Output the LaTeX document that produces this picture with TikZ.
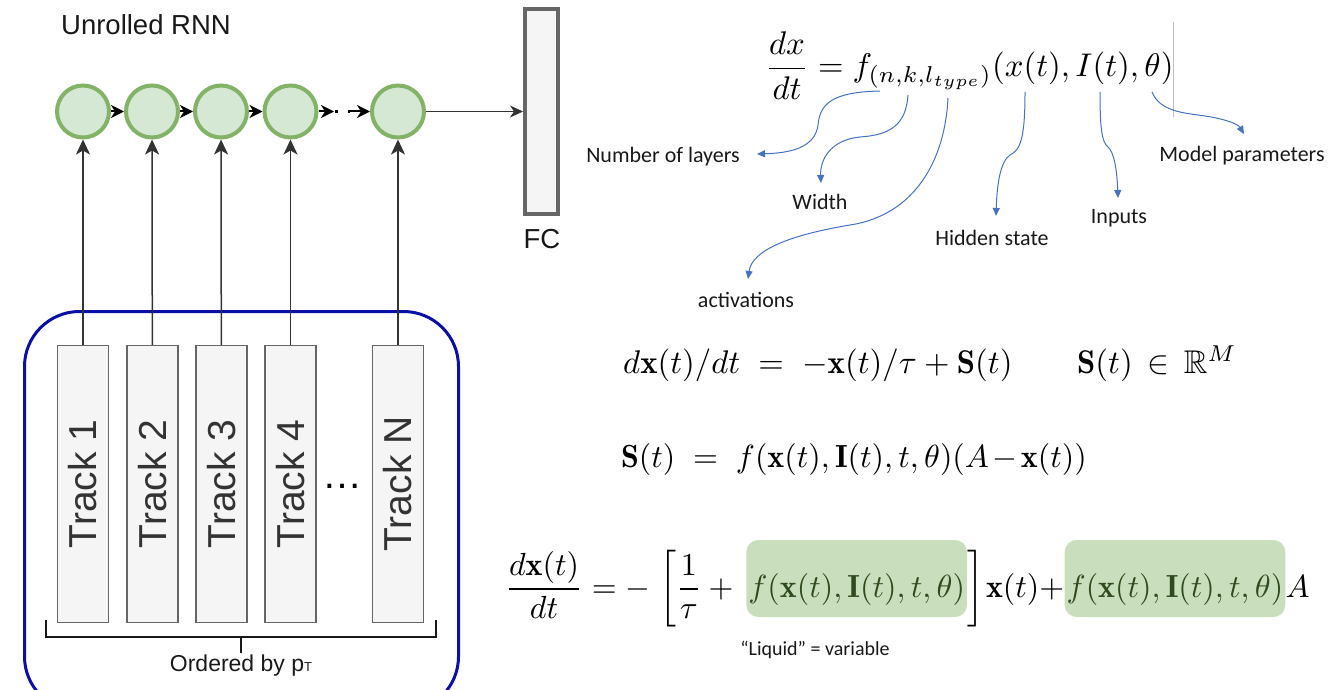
\documentclass[tikz,border=0pt]{standalone}
\usepackage{amsmath,amssymb}
\usepackage{graphicx}
\usepackage{fontspec}
\newfontfamily\arialf{Liberation Sans}
\newfontfamily\calib{Carlito}
\usetikzlibrary{arrows.meta}
\definecolor{rnnfill}{HTML}{D5E8D4}
\definecolor{rnnline}{HTML}{82B366}
\definecolor{boxfill}{HTML}{F5F5F5}
\definecolor{boxline}{HTML}{666666}
\definecolor{darkline}{HTML}{333333}
\definecolor{grpblue}{HTML}{0A0FA8}
\definecolor{annblue}{HTML}{4472C4}
\definecolor{liqfill}{HTML}{C9DEBC}
\definecolor{liqtext}{HTML}{2F4A1E}
\begin{document}
\begin{tikzpicture}[x=1pt,y=-1pt,
  rnn/.style={circle, draw=rnnline, fill=rnnfill, line width=4pt, minimum size=52pt, inner sep=0pt},
  trackbox/.style={draw=boxline, fill=boxfill, line width=1.5pt, minimum width=51pt, minimum height=277pt, inner sep=0pt, text=darkline, font=\arialf\fontsize{39}{42}\selectfont},
  fcbox/.style={draw=boxline, fill=boxfill, line width=4pt, minimum width=33pt, minimum height=205pt, inner sep=0pt},
  rarrow/.style={-{Stealth[length=13pt,width=13pt,inset=4pt]}, line width=2pt, black},
  farrow/.style={-{Stealth[length=13pt,width=12pt,inset=4pt]}, line width=1.3pt, darkline},
  uparrow/.style={-{Stealth[length=15pt,width=14pt,inset=4pt]}, line width=1.5pt, darkline},
  ann/.style={-{Triangle[length=8pt,width=7pt]}, annblue, line width=1pt},
  lbl/.style={font=\calib\fontsize{22}{26}\selectfont, text=black!90, inner sep=0pt},
  arialtxt/.style={font=\arialf\fontsize{27.5}{30}\selectfont, text=black!90, inner sep=0pt},
  eqn/.style={anchor=base west, inner sep=0pt},
  liq/.style={fill=liqfill, rounded corners=12pt, inner xsep=2pt, inner ysep=0pt, text=liqtext, anchor=base west},
  grp/.style={draw=grpblue, line width=3pt, rounded corners=55pt}
]
\useasboundingbox (0,0) rectangle (1341,690);

% ---------- left: unrolled RNN ----------
\node[arialtxt] (title) at (146,25) {Unrolled RNN};

\node[rnn] (c1) at (83,111.5) {};
\node[rnn] (c2) at (152,111.5) {};
\node[rnn] (c3) at (221,111.5) {};
\node[rnn] (c4) at (290.5,111.5) {};
\node[rnn] (c5) at (398,111.5) {};

\coordinate (d1) at (334,111.5);
\coordinate (d2) at (350,111.5);

\draw[rarrow] (c1) -- (c2);
\draw[rarrow] (c2) -- (c3);
\draw[rarrow] (c3) -- (c4);
\draw[rarrow] (c4) -- (d1);
\draw[black, line width=2.5pt, dash pattern=on 2.5pt off 10pt] (335,111.5) -- (352,111.5);
\draw[rarrow] (d2) -- (c5);

\node[fcbox] (fc) at (541.5,111.5) {};
\node[arialtxt] (fclbl) at (542,239) {FC};
\draw[farrow] (c5) -- (fc);

% group box
\node[grp, minimum width=434pt, minimum height=400pt, anchor=north west] (group) at (23,310) {};

% tracks
\node[trackbox] (t1) at (83,484) {\rotatebox{90}{Track 1}};
\node[trackbox] (t2) at (152.5,484) {\rotatebox{90}{Track 2}};
\node[trackbox] (t3) at (221.5,484) {\rotatebox{90}{Track 3}};
\node[trackbox] (t4) at (290.5,484) {\rotatebox{90}{Track 4}};
\node[trackbox] (tN) at (398,484) {\rotatebox{90}{Track N}};
\node[inner sep=0pt, text=black, font=\arialf\fontsize{40}{40}\selectfont] (tdots) at (342,486) {…};

\draw[uparrow] (t1) -- (c1);
\draw[uparrow] (t2) -- (c2);
\draw[uparrow] (t3) -- (c3);
\draw[uparrow] (t4) -- (c4);
\draw[uparrow] (tN) -- (c5);

% bracket
\coordinate (bl) at (46,620);
\coordinate (br) at (436,620);
\coordinate (bm) at (241,637);
\coordinate (bt) at (241,653);
\draw[black!90, line width=1.5pt] (bl) -- (46,637) -- (436,637) -- (br);
\draw[black!90, line width=1.5pt] (bm) -- (bt);
\node[inner sep=0pt, text=black!90, font=\arialf\fontsize{23}{26}\selectfont, anchor=north] (order) at (241,655) {Ordered by p{\fontsize{13}{13}\selectfont T}};

% ---------- right: equations ----------
\node[eqn] (eqA) at (765,77) {\scalebox{3.28}{$\dfrac{dx}{dt} = f_{(n,k,l_{type})}(x(t),I(t),\theta)$}};
\draw[black!25, line width=0.8pt] (1173,22) -- (1173,117);

\node[lbl] (nlay) at (663,157) {Number of layers};
\node[lbl] (wid) at (820,202) {Width};
\node[lbl] (act) at (746,300) {activations};
\node[lbl] (hid) at (992,238) {Hidden state};
\node[lbl] (inp) at (1119,218) {Inputs};
\node[lbl] (mpar) at (1242,156) {Model parameters};

\coordinate (sL) at (880,91);
\coordinate (eL) at (757,154);
\coordinate (sW) at (908,95);
\coordinate (eW) at (821,183);
\coordinate (sA) at (948,98);
\coordinate (eA) at (748,279);
\coordinate (sH) at (1025,92);
\coordinate (eH) at (996,216);
\coordinate (sI) at (1100,92);
\coordinate (eI) at (1118,198);
\coordinate (sM) at (1152,92);
\coordinate (eM) at (1244,134);

\draw[ann] (sL) .. controls (830,92) and (820,105) .. (818,125) .. controls (815,148) and (790,153) .. (eL);
\draw[ann] (sW) .. controls (906,125) and (890,135) .. (860,137) .. controls (830,140) and (820,160) .. (eW);
\draw[ann] (sA) .. controls (945,160) and (915,215) .. (850,225) .. controls (790,235) and (752,250) .. (eA);
\draw[ann] (sH) .. controls (1025,140) and (1020,150) .. (1010,155) .. controls (1000,162) and (997,185) .. (eH);
\draw[ann] (sI) .. controls (1100,130) and (1102,142) .. (1108,147) .. controls (1114,152) and (1117,170) .. (eI);
\draw[ann] (sM) .. controls (1160,112) and (1185,113) .. (1205,116) .. controls (1225,119) and (1238,124) .. (eM);

\node[eqn] (eqB) at (623,373) {\scalebox{3.28}{$d\mathbf{x}(t)/dt \;=\; -\mathbf{x}(t)/\tau + \mathbf{S}(t)$}};
\node[eqn] (eqBb) at (1077,373) {\scalebox{3.28}{$\mathbf{S}(t) \,\in\, \mathbb{R}^M$}};
\node[eqn] (eqS) at (621,467) {\scalebox{3.2}{$\mathbf{S}(t) \;=\; f(\mathbf{x}(t),\mathbf{I}(t),t,\theta)(A\mkern2mu{-}\mkern2mu\mathbf{x}(t))$}};

\node[eqn] (eqC) at (505,597) {\scalebox{3.2}{$\dfrac{d\mathbf{x}(t)}{dt} = -\;\bigg[\dfrac{1}{\tau}+\mkern3mu{}$}};
\node[liq] (g1) at (eqC.base east) {\rule[-20pt]{0pt}{77pt}\scalebox{3.2}{$f(\mathbf{x}(t),\mathbf{I}(t),t,\theta)$}};
\node[eqn] (eqD) at (g1.base east) {\scalebox{3.2}{$\bigg]\mkern1mu\mathbf{x}(t){+}$}};
\node[liq] (g2) at (eqD.base east) {\rule[-20pt]{0pt}{77pt}\scalebox{3.2}{$f(\mathbf{x}(t),\mathbf{I}(t),t,\theta)$}};
\node[eqn] (eqE) at (g2.base east) {\scalebox{3.2}{$A$}};

\node[lbl, font=\calib\fontsize{20}{24}\selectfont] (liquid) at (815,650) {“Liquid” = variable};
\end{tikzpicture}
\end{document}
